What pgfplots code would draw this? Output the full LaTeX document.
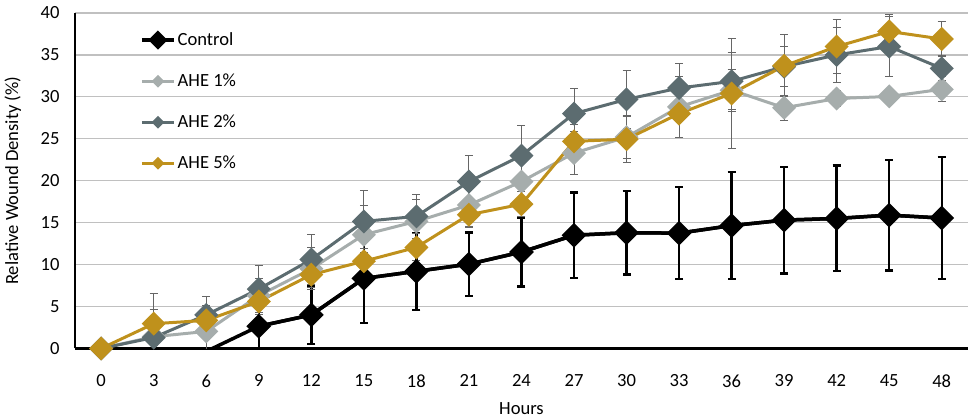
\documentclass[border=0pt]{standalone}
\usepackage{fontspec}
\setmainfont{Carlito}
\usepackage{pgfplots}
\usepackage{pgfplotstable}
\pgfplotsset{compat=1.18}
\definecolor{ahea}{RGB}{166,173,172}
\definecolor{aheb}{RGB}{92,108,112}
\definecolor{ahec}{RGB}{191,145,28}
\definecolor{gridc}{RGB}{192,192,192}

\pgfplotsset{
  bigleg/.style={legend image code/.code={\draw[mark repeat=2,mark phase=2,##1, mark size=2.5pt] plot coordinates {(0pt,0pt) (8pt,0pt) (16pt,0pt)};}},
  smallleg/.style={legend image code/.code={\draw[mark repeat=2,mark phase=2,##1, mark size=1.5pt] plot coordinates {(0pt,0pt) (8pt,0pt) (16pt,0pt)};}},
}

\pgfplotstableread{
h v e
6 -0.35 0
9 2.65 3.0
12 4.0 3.5
15 8.35 5.3
18 9.2 4.6
21 10.05 3.8
24 11.5 4.1
27 13.5 5.1
30 13.8 5.0
33 13.75 5.5
36 14.65 6.4
39 15.3 6.35
42 15.5 6.3
45 15.9 6.6
48 15.55 7.3
}\ctrlline

\pgfplotstableread{
h v e
9 2.65 3.0
12 4.0 3.5
15 8.35 5.3
18 9.2 4.6
21 10.05 3.8
24 11.5 4.1
27 13.5 5.1
30 13.8 5.0
33 13.75 5.5
36 14.65 6.4
39 15.3 6.35
42 15.5 6.3
45 15.9 6.6
48 15.55 7.3
}\ctrl

\pgfplotstableread{
h v e
0 0 0
3 1.4 1.0
6 2.03 2.2
9 6.3 2.0
12 9.5 2.5
15 13.56 3.5
18 15.15 2.6
21 17.1 2.5
24 19.9 2.6
27 23.3 2.6
30 25.2 2.5
33 28.8 3.6
36 30.8 2.5
39 28.7 1.5
42 29.8 1.0
45 30.05 0.8
48 30.9 1.5
}\aheone

\pgfplotstableread{
h v e
0 0 0
3 1.3 3.3
6 4.0 2.2
9 7.08 2.8
12 10.6 3.0
15 15.15 3.65
18 15.75 2.65
21 19.9 3.1
24 23.0 3.6
27 28.0 3.0
30 29.7 3.5
33 31.05 2.9
36 31.85 3.4
39 33.6 2.4
42 35.0 3.3
45 36.0 3.6
48 33.4 1.5
}\ahetwo

\pgfplotstableread{
h v e
0 0 0
3 2.95 3.55
6 3.35 1.8
9 5.6 1.5
12 8.8 1.5
15 10.4 1.5
18 12.05 1.6
21 15.95 1.5
24 17.2 1.5
27 24.7 2.0
30 24.95 2.8
33 28.0 2.8
36 30.4 6.6
39 33.7 3.7
42 36.0 3.2
45 37.8 2.0
48 36.9 2.1
}\ahefive

\begin{document}
\fontsize{9.3}{11}\selectfont
\begin{tikzpicture}
\useasboundingbox (-37.5pt,-35.7pt) rectangle (449.5pt,174.4pt);
\begin{axis}[
  scale only axis, width=447pt, height=167.9pt,
  xmin=-1.5, xmax=49.5, ymin=0, ymax=40,
  xtick={0,3,...,48}, ytick={0,5,...,40},
  axis lines*=left,
  x axis line style={line width=1.4pt, black},
  y axis line style={line width=1pt, black},
  ymajorgrids, grid style={gridc, line width=0.6pt},
  major tick length=0pt,
  tick label style={font=\fontsize{9.3}{11}\selectfont},
  /pgf/number format/assume math mode=true,
  xticklabel style={anchor=center, yshift=-16.2pt},
  yticklabel style={anchor=east, inner xsep=0pt, xshift=-7.5pt},
  xlabel={Hours}, ylabel={Relative Wound Density (\%)},
  xlabel style={at={(axis description cs:0.5,-0.18)}, anchor=center, font=\fontsize{9.3}{11}\selectfont},
  ylabel style={at={(axis description cs:-0.0694,0.5)}, anchor=center, font=\fontsize{9.3}{11}\selectfont},
  legend style={at={(axis description cs:0.0727,0.95)}, anchor=north west, draw=none, fill=none,
    inner sep=0pt, row sep=10.8pt, font=\fontsize{9.3}{11}\selectfont,
    nodes={inner sep=1pt}},
  legend cell align=left,
]
\addplot[black, line width=1.75pt, forget plot] table[x=h, y=v] {\ctrlline};
\addplot[black, line width=1.75pt, mark=square*, mark size=3.5pt, mark options={rotate=45, solid}, bigleg,
  error bars/.cd, y dir=both, y explicit,
  error bar style={line width=1.2pt, black},
  error mark options={rotate=90, mark size=2pt, line width=1.2pt, black}]
  table[x=h, y=v, y error=e] {\ctrl};
\addplot[ahea, line width=1.5pt, mark=square*, mark size=3.5pt, mark options={rotate=45, solid}, smallleg,
  error bars/.cd, y dir=both, y explicit,
  error bar style={line width=0.5pt, black!60},
  error mark options={rotate=90, mark size=2pt, line width=0.5pt, black!60}]
  table[x=h, y=v, y error=e] {\aheone};
\addplot[aheb, line width=1.5pt, mark=square*, mark size=3.5pt, mark options={rotate=45, solid}, smallleg,
  error bars/.cd, y dir=both, y explicit,
  error bar style={line width=0.5pt, black!60},
  error mark options={rotate=90, mark size=2pt, line width=0.5pt, black!60}]
  table[x=h, y=v, y error=e] {\ahetwo};
\addplot[ahec, line width=1.5pt, mark=square*, mark size=3.5pt, mark options={rotate=45, solid}, smallleg,
  error bars/.cd, y dir=both, y explicit,
  error bar style={line width=0.5pt, black!60},
  error mark options={rotate=90, mark size=2pt, line width=0.5pt, black!60}]
  table[x=h, y=v, y error=e] {\ahefive};
\legend{Control, AHE 1\%, AHE 2\%, AHE 5\%}
\end{axis}
\end{tikzpicture}
\end{document}
